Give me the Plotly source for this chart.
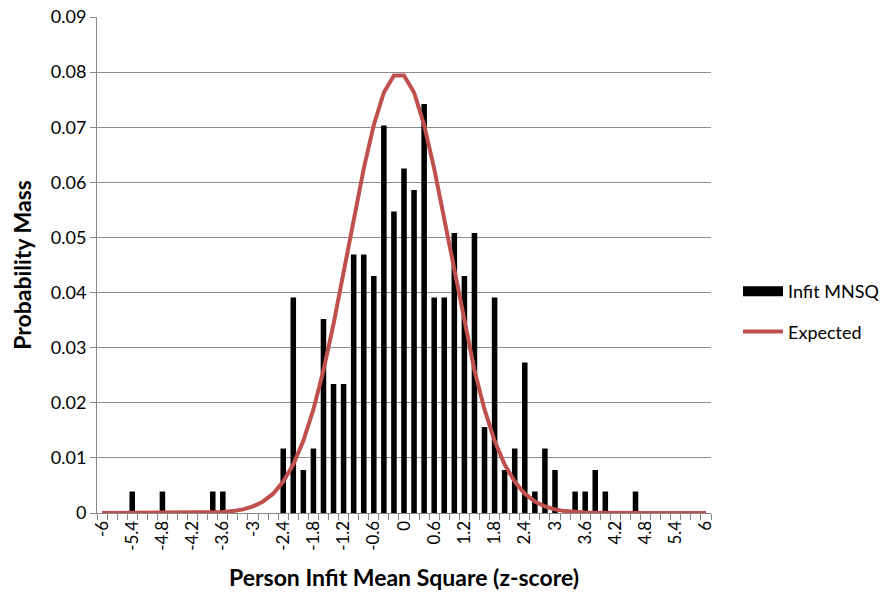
import plotly.graph_objects as go

# Categories: z-score bins (-6 .. 6 step 0.2)
z_bins = [-6.0, -5.8, -5.6, -5.4, -5.2, -5.0, -4.8, -4.6, -4.4, -4.2, -4.0, -3.8, -3.6, -3.4, -3.2, -3.0,
          -2.8, -2.6, -2.4, -2.2, -2.0, -1.8, -1.6, -1.4, -1.2, -1.0, -0.8, -0.6, -0.4, -0.2, 0.0,
          0.2, 0.4, 0.6, 0.8, 1.0, 1.2, 1.4, 1.6, 1.8, 2.0, 2.2, 2.4, 2.6, 2.8, 3.0,
          3.2, 3.4, 3.6, 3.8, 4.0, 4.2, 4.4, 4.6, 4.8, 5.0, 5.2, 5.4, 5.6, 5.8, 6.0]

# Observed probability mass (Infit MNSQ)
infit_mnsq = [0, 0, 0, 0.0039, 0, 0, 0.0039, 0, 0, 0, 0, 0.0039, 0.0039, 0, 0, 0,
              0, 0, 0.0117, 0.0391, 0.0078, 0.0117, 0.0352, 0.0234, 0.0234, 0.0469, 0.0469, 0.0430, 0.0703, 0.0547, 0.0625,
              0.0586, 0.0742, 0.0391, 0.0391, 0.0508, 0.0430, 0.0508, 0.0156, 0.0391, 0.0078, 0.0117, 0.0273, 0.0039, 0.0117, 0.0078,
              0, 0.0039, 0.0039, 0.0078, 0.0039, 0, 0, 0.0039, 0, 0, 0, 0, 0, 0, 0]

# Expected probability mass
expected = [0, 0, 0, 0, 0, 0, 0, 0, 0, 0, 0.00004, 0.000085, 0.000175, 0.000345, 0.00065, 0.0012,
            0.0021, 0.0035, 0.0057, 0.0088, 0.0131, 0.0188, 0.0259, 0.0343, 0.0436, 0.0532, 0.0625, 0.0704, 0.0763, 0.0794,
            0.0794, 0.0763, 0.0704, 0.0625, 0.0532, 0.0436, 0.0343, 0.0259, 0.0188, 0.0131, 0.0088, 0.0057, 0.0035, 0.0021, 0.0012,
            0.00065, 0.000345, 0.000175, 0.000085, 0.00004, 0, 0, 0, 0, 0, 0, 0, 0, 0, 0, 0]

tick_vals = [-6.0, -5.4, -4.8, -4.2, -3.6, -3.0, -2.4, -1.8, -1.2, -0.6, 0.0,
             0.6, 1.2, 1.8, 2.4, 3.0, 3.6, 4.2, 4.8, 5.4, 6.0]
tick_text = ["-6", "-5.4", "-4.8", "-4.2", "-3.6", "-3", "-2.4", "-1.8", "-1.2", "-0.6", "0",
             "0.6", "1.2", "1.8", "2.4", "3", "3.6", "4.2", "4.8", "5.4", "6"]

FONT = "Lato, 'Open Sans', sans-serif"
RED = "#C0504D"

fig = go.Figure()
fig.add_trace(go.Bar(x=z_bins, y=infit_mnsq, marker=dict(color="black", line=dict(width=0)),
                     width=0.11, showlegend=False, name="Infit MNSQ"))
fig.add_trace(go.Scatter(x=z_bins, y=expected, mode="lines", line=dict(color=RED, width=4),
                         showlegend=False, name="Expected"))
# legend entries
fig.add_trace(go.Scatter(x=[None], y=[None], mode="lines", line=dict(color="black", width=12),
                         name="Infit MNSQ", legendgroup="a"))
fig.add_trace(go.Scatter(x=[None], y=[None], mode="lines", line=dict(color=RED, width=4),
                         name="Expected", legendgroup="b"))

fig.update_layout(
    width=888, height=601,
    margin=dict(l=97, r=177, t=17, b=88, autoexpand=False),
    paper_bgcolor="white", plot_bgcolor="white",
    font=dict(family=FONT, color="black", size=17),
    legend=dict(x=1.044, y=0.484, xanchor="left", yanchor="top", font=dict(size=18),
                tracegroupgap=14, itemwidth=40, bgcolor="rgba(0,0,0,0)"),
    xaxis=dict(
        range=[-6.1, 6.1], tickmode="array", tickvals=tick_vals, ticktext=tick_text,
        tickangle=-90, ticks="", showgrid=False, zeroline=False,
        showline=True, linecolor="#888888", linewidth=1,
        tickfont=dict(size=17),
        minor=dict(tickmode="linear", tick0=-6.1, dtick=0.2, ticks="outside",
                   ticklen=6, tickcolor="#888888", showgrid=False),
        title=dict(text="<b>Person Infit Mean Square (z-score)</b>", font=dict(size=23), standoff=20),
    ),
    yaxis=dict(
        range=[0, 0.09], dtick=0.01, showgrid=True, gridcolor="#8c8c8c", gridwidth=1,
        zeroline=False, showline=True, linecolor="#888888", linewidth=1,
        ticks="outside", ticklen=6, tickcolor="#888888", tickfont=dict(size=18),
        title=dict(text="<b>Probability Mass</b>", font=dict(size=23), standoff=12),
    ),
)

fig.write_html("out.html")
